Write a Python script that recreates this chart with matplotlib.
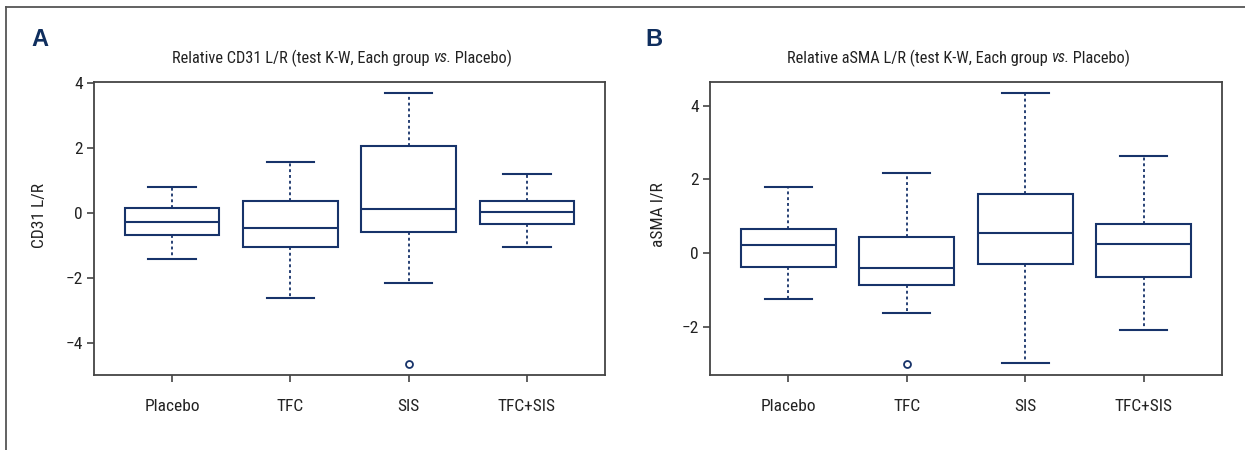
import matplotlib
matplotlib.use("Agg")
import matplotlib.pyplot as plt
from matplotlib.lines import Line2D
import matplotlib.font_manager as fm

groups = ["Placebo", "TFC", "SIS", "TFC+SIS"]

# Panel A: CD31 L/R  (lower whisker, Q1, median, Q3, upper whisker)
cd31_whislo = [-1.41, -2.59, -2.15, -1.04]
cd31_q1     = [-0.66, -1.02, -0.56, -0.34]
cd31_med    = [-0.28, -0.44,  0.13,  0.05]
cd31_q3     = [ 0.18,  0.38,  2.06,  0.39]
cd31_whishi = [ 0.81,  1.59,  3.71,  1.21]
cd31_fliers = [[], [], [-4.64], []]

# Panel B: aSMA L/R
asma_whislo = [-1.26, -1.62, -3.00, -2.09]
asma_q1     = [-0.37, -0.88, -0.29, -0.64]
asma_med    = [ 0.21, -0.41,  0.55,  0.24]
asma_q3     = [ 0.65,  0.43,  1.60,  0.79]
asma_whishi = [ 1.79,  2.17,  4.35,  2.63]
asma_fliers = [[], [-3.02], [], []]

NAVY = "#17336a"


def pick_condensed():
    fl = fm.fontManager.ttflist
    names = {f.name for f in fl}
    for cand in ["Roboto Condensed", "Open Sans Condensed", "Liberation Sans Narrow",
                 "Noto Sans Condensed", "DejaVu Sans Condensed", "Noto Sans Display Condensed"]:
        if cand in names:
            return cand, "normal", 1.0
    for fam in ["Roboto", "Open Sans", "Noto Sans", "DejaVu Sans", "Lato", "Inter"]:
        for f in fl:
            if f.name == fam and str(f.stretch) in ("condensed", "semi-condensed",
                                                     "extra-condensed", "600", "500"):
                return fam, f.stretch, 1.0
    for f in fl:
        if ("Condensed" in f.name or "Narrow" in f.name) and f.style == "normal":
            return f.name, "normal", 1.0
    return "Liberation Sans", "normal", 0.82


FONT, STRETCH, SCALE = pick_condensed()
plt.rcParams["font.family"] = [FONT, "DejaVu Sans"]
plt.rcParams["font.stretch"] = STRETCH

fig = plt.figure(figsize=(12.45, 4.5), dpi=100)
W, H = 1245.0, 450.0
renderer = fig.canvas.get_renderer()


def styled_title(cx, cy, parts, size):
    # parts: list of (text, style); laid out left to right, centred on cx
    texts = []
    for s, st in parts:
        t = fig.text(0, cy, s, fontsize=size, style=st, color="#222222",
                     ha="left", va="center")
        texts.append(t)
    widths = [t.get_window_extent(renderer).width / W for t in texts]
    x = cx - sum(widths) / 2
    for t, w in zip(texts, widths):
        t.set_x(x)
        x += w


def make_stats(lo, q1, med, q3, hi, fl):
    return [dict(whislo=a, q1=b, med=c, q3=d, whishi=e, fliers=f, label=g)
            for a, b, c, d, e, f, g in zip(lo, q1, med, q3, hi, fl, groups)]


def panel(rect, stats, title_var, ylabel, letter, letter_x, ylabel_x, yticks):
    ax = fig.add_axes(rect)
    ax.bxp(stats, positions=range(1, 5), widths=0.8, showfliers=True,
           patch_artist=True,
           boxprops=dict(facecolor="white", edgecolor=NAVY, linewidth=1.5),
           medianprops=dict(color=NAVY, linewidth=1.5),
           whiskerprops=dict(color=NAVY, linewidth=1.3, linestyle=(0, (1.6, 1.6))),
           capprops=dict(color=NAVY, linewidth=1.5),
           capwidths=0.4,
           flierprops=dict(marker="o", markerfacecolor="none", markeredgecolor=NAVY,
                           markersize=5, markeredgewidth=1.3))
    lo = min(min([s["whislo"]] + list(s["fliers"])) for s in stats)
    hi = max(max([s["whishi"]] + list(s["fliers"])) for s in stats)
    r = hi - lo
    ax.set_ylim(lo - 0.04 * r, hi + 0.04 * r)
    ax.set_xlim(0.34, 4.66)
    ax.set_yticks(yticks)
    ax.set_yticklabels([("\u2212%d" % -t) if t < 0 else "%d" % t for t in yticks])
    ax.set_xticks(range(1, 5))
    ax.set_xticklabels(groups)
    for s in ax.spines.values():
        s.set_color("#444444")
        s.set_linewidth(1.3)
    ax.tick_params(axis="both", colors="#444444", labelcolor="#222222",
                   labelsize=12.5 * SCALE, length=5, width=1.2)
    ax.tick_params(axis="x", pad=12)
    ax.tick_params(axis="y", pad=3)
    cx = rect[0] + rect[2] / 2
    styled_title(cx - 0.006, 1 - 58 / H,
                 [("Relative %s L/R (test K-W, Each group " % title_var, "normal"),
                  ("vs.", "italic"), (" Placebo)", "normal")], 11.8 * SCALE)
    fig.text(letter_x / W, 1 - 40 / H, letter, ha="center", va="center",
             fontsize=17, fontweight="bold", color="#0f2e5e",
             family=["Liberation Sans", "DejaVu Sans"], stretch="normal")
    fig.text(ylabel_x / W, 1 - 215 / H, ylabel, rotation=90, ha="center",
             va="center", fontsize=12.5 * SCALE, color="#222222")
    return ax


statsA = make_stats(cd31_whislo, cd31_q1, cd31_med, cd31_q3, cd31_whishi, cd31_fliers)
statsB = make_stats(asma_whislo, asma_q1, asma_med, asma_q3, asma_whishi, asma_fliers)

bottom = 1 - 375 / H
height = (375 - 82) / H
panel([94 / W, bottom, 511 / W, height], statsA, "CD31",
      "CD31 L/R", "A", 40, 40, [-4, -2, 0, 2, 4])
panel([710 / W, bottom, 512 / W, height], statsB, "aSMA",
      "aSMA I/R", "B", 654, 658, [-2, 0, 2, 4])

# outer frame lines (top and left)
fig.add_artist(Line2D([6 / W, 1.0], [1 - 7 / H, 1 - 7 / H], color="#555555",
                      linewidth=1.3, transform=fig.transFigure))
fig.add_artist(Line2D([6 / W, 6 / W], [1 - 7 / H, 0.0], color="#555555",
                      linewidth=1.3, transform=fig.transFigure))

fig.savefig("out.png", dpi=100, facecolor="white")
